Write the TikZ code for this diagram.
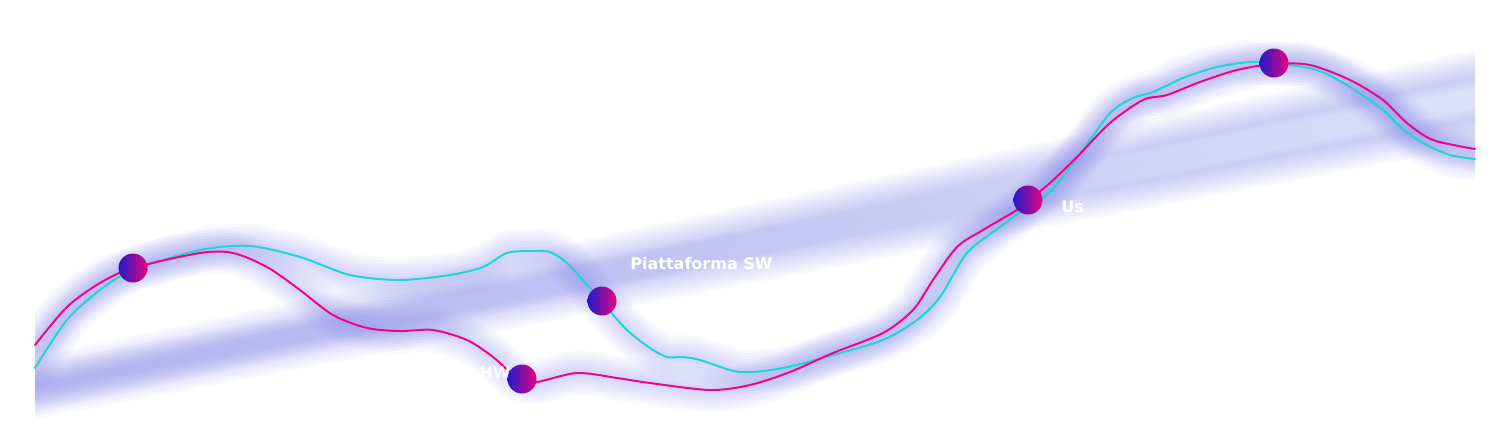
\documentclass[tikz,border=0pt]{standalone}
\usepackage{fontspec}
\newfontfamily\labelfont{DejaVu Sans}
\definecolor{cyanline}{RGB}{30,214,210}
\definecolor{magline}{RGB}{236,8,132}
\definecolor{glowc}{RGB}{105,110,225}
\definecolor{dotL}{RGB}{35,25,200}
\definecolor{dotR}{RGB}{230,5,128}
\tikzset{
  dotnode/.style={circle, minimum size=14.5pt, inner sep=0pt, left color=dotL, right color=dotR},
  lbl/.style={text=white, font=\labelfont\bfseries\fontsize{8}{10}\selectfont, inner sep=0pt},
  curveline/.style={line width=1pt, line cap=round, line join=round},
  glowline/.style={draw=glowc, line cap=round, line join=round, opacity=0.045, line width=#1}
}
\begin{document}
\begin{tikzpicture}[x=0.5pt, y=-0.5pt]
\useasboundingbox (0,0) rectangle (1510,424);
\path[save path=\cyanP] plot[smooth, tension=0.5] coordinates {
 (35,368) (67,320) (100,290) (133,270) (200,250) (250,246) (300,257) (350,275) (400,280)
 (450,275) (483,267) (507,253) (533,251) (550,252) (567,263) (590,288) (602,302) (627,330)
 (650,348) (667,357) (683,357) (700,360) (740,372) (783,368) (833,355) (883,340) (917,320)
 (940,297) (967,253) (1000,227) (1028,206) (1050,192) (1083,150) (1110,113) (1133,98)
 (1153,92) (1183,78) (1217,67) (1250,62) (1274,63) (1317,70) (1350,87) (1383,110)
 (1400,127) (1423,143) (1450,155) (1475,159)};
\path[save path=\magP] plot[smooth, tension=0.5] coordinates {
 (35,345) (67,307) (100,283) (133,268) (200,253) (233,253) (267,267) (300,290) (333,315)
 (367,328) (400,331) (433,330) (467,340) (493,357) (513,375) (522,380) (537,382) (577,373)
 (617,378) (650,383) (710,390) (750,385) (790,372) (833,353) (883,333) (913,310) (933,280)
 (957,247) (983,230) (1017,210) (1028,201) (1050,183) (1077,157) (1110,123) (1143,100)
 (1167,95) (1200,82) (1237,70) (1274,64) (1310,65) (1350,80) (1383,100) (1407,123)
 (1433,140) (1475,149)};
\begin{scope}
\clip (35,0) rectangle (1475,424);
% straight background bands
\foreach \w in {27,24,21,18,15,12,9,6,3} {
  \draw[glowline=\w pt] (0,392) -- (1510,70);
  \draw[glowline=\w pt] (0,398) -- (1510,112);
}
% glow along curves
\foreach \w in {22,19,16,13,10,7,4} {
  \draw[glowline=\w pt, use path=\cyanP];
  \draw[glowline=\w pt, use path=\magP];
}
\end{scope}
\draw[curveline, cyanline, use path=\cyanP];
\draw[curveline, magline, use path=\magP];
\node[dotnode] (d1) at (133,268) {};
\node[dotnode] (d2) at (522,379) {};
\node[dotnode] (d3) at (602,301) {};
\node[dotnode] (d4) at (1028,200) {};
\node[dotnode] (d5) at (1274,63) {};
\node[lbl, anchor=west] (t3) at (630,264) {Piattaforma SW};
\node[lbl, anchor=east] (t2) at (511,373) {Piattaforma HW};
\node[lbl, anchor=west] (t4) at (1061,207) {Us};
\end{tikzpicture}
\end{document}
